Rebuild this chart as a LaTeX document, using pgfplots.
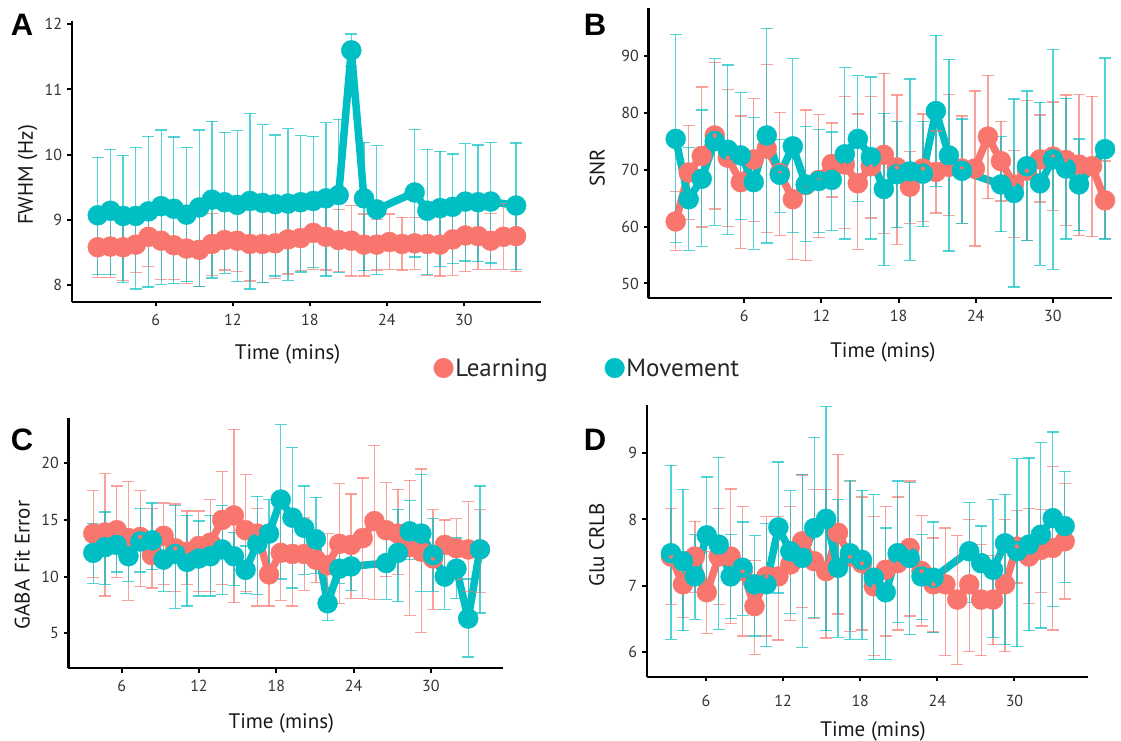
\documentclass[border=0pt]{standalone}
\usepackage{fontspec}
\setmainfont{PT Sans}
\newfontfamily\letterfont{Liberation Sans}
\usepackage{pgfplots}
\usepackage{pgfplotstable}
\pgfplotsset{compat=1.18}

\definecolor{lrn}{HTML}{F8766D}
\definecolor{mov}{HTML}{00BFC4}

% ---------------- Panel A (FWHM) ----------------
\pgfplotstableread{
k y lo hi
0 8.58 8.12 9.04
1 8.59 8.12 9.05
2 8.58 8.07 9.08
3 8.62 8.19 9.09
4 8.74 8.28 9.23
5 8.68 8.09 9.27
6 8.61 8.09 9.13
7 8.56 8.02 9.08
8 8.54 7.98 9.09
9 8.63 8.15 9.10
10 8.69 8.23 9.16
11 8.68 8.21 9.16
12 8.63 8.06 9.19
13 8.63 8.04 9.22
14 8.64 8.10 9.18
15 8.70 8.17 9.25
16 8.72 8.22 9.23
17 8.80 8.24 9.38
18 8.74 8.23 9.25
19 8.69 8.21 9.16
20 8.68 8.14 9.22
21 8.62 8.14 9.09
22 8.62 8.23 9.01
23 8.66 8.24 9.09
24 8.63 8.23 9.04
25 8.64 8.24 9.04
26 8.63 8.15 9.11
27 8.62 8.14 9.09
28 8.70 8.15 9.25
29 8.76 8.21 9.32
30 8.75 8.24 9.25
31 8.68 8.24 9.10
32 8.74 8.24 9.25
33 8.75 8.21 9.30
}\Alrn
\pgfplotstableread{
k y lo hi
0 9.07 8.16 9.96
1 9.14 8.16 10.08
2 9.06 8.04 9.99
3 9.06 7.94 10.11
4 9.13 7.97 10.28
5 9.21 8.01 10.38
6 9.17 8.02 10.27
7 9.08 8.05 10.11
8 9.19 7.98 10.38
9 9.31 8.11 10.51
10 9.27 8.18 10.34
11 9.23 8.05 10.37
12 9.29 7.94 10.63
13 9.26 8.04 10.46
14 9.24 8.14 10.30
15 9.25 8.07 10.40
16 9.27 8.20 10.29
17 9.29 8.27 10.28
18 9.33 8.14 10.49
19 9.38 8.19 10.54
20 11.60 11.35 11.85
21 9.33 8.22 10.19
22 9.16 8.16 10.14
25 9.42 8.43 10.39
26 9.14 8.16 10.08
27 9.18 8.28 10.05
28 9.20 8.33 10.01
29 9.28 8.37 10.17
30 9.27 8.36 10.15
31 9.28 8.34 10.19
33 9.22 8.24 10.18
}\Amov

% ---------------- Panel B (SNR) ----------------
\pgfplotstableread{
k y lo hi
0 60.9 55.8 66.1
1 69.5 61.3 77.8
2 72.4 59.9 84.5
3 76.0 63.1 88.8
4 72.1 60.0 84.1
5 67.8 56.1 79.4
6 71.8 60.9 82.5
7 73.7 58.9 88.5
8 69.4 58.4 80.1
9 64.8 54.2 74.4
10 67.3 54.0 80.5
11 68.2 58.1 79.7
12 71.0 65.2 78.2
13 70.9 59.7 82.8
14 67.6 56.0 79.8
15 70.6 61.5 82.8
16 72.6 58.8 86.9
17 70.4 56.9 83.1
18 67.0 60.6 73.2
19 70.2 60.9 79.8
20 69.6 62.4 76.8
21 70.5 61.9 83.2
22 70.2 60.6 79.4
23 70.2 56.6 83.8
24 75.8 64.9 86.6
25 71.5 64.5 78.5
26 67.4 58.1 73.4
27 69.8 57.5 82.1
28 71.8 64.3 79.6
29 72.3 62.8 81.9
30 71.7 60.2 83.1
31 70.9 58.4 83.2
32 70.6 58.2 82.9
33 64.6 57.9 71.5
}\Blrn
\pgfplotstableread{
k y lo hi
0 75.4 57.2 93.8
1 64.8 55.8 73.9
2 68.4 56.5 80.5
3 75.0 60.2 89.5
4 73.5 58.6 88.4
5 72.5 61.2 83.5
6 67.8 56.0 79.2
7 76.0 57.1 94.8
8 69.1 62.5 75.3
9 74.1 58.9 89.5
10 67.4 57.4 77.6
11 68.0 58.9 77.0
12 68.2 59.3 76.6
13 72.7 57.8 87.9
14 75.4 64.4 86.5
15 72.2 57.8 86.3
16 66.6 53.1 79.9
17 69.2 59.8 78.4
18 69.7 54.1 85.9
19 69.3 60.0 78.4
20 80.3 67.1 93.6
21 72.5 55.7 89.4
22 69.8 60.6 78.9
25 67.4 59.1 75.8
26 65.9 49.4 82.4
27 70.6 57.5 83.8
28 67.6 53.2 81.8
29 71.8 52.5 91.1
30 70.2 57.8 82.5
31 67.4 59.3 75.4
33 73.6 57.8 89.6
}\Bmov

% ---------------- Panel C (GABA Fit Error) ----------------
\pgfplotstableread{
k y lo hi
0 13.8 9.9 17.6
1 13.9 8.3 19.1
2 14.1 9.9 18.0
3 13.4 7.9 18.4
4 13.5 9.1 17.6
5 11.9 9.0 16.0
6 13.6 9.3 16.5
7 12.5 8.7 16.4
8 12.2 9.3 15.8
9 12.7 8.7 15.8
10 13.0 8.7 16.8
11 15.0 9.3 19.3
12 15.4 7.7 23.0
13 14.1 8.7 19.0
14 13.8 7.4 16.0
15 10.2 7.4 13.1
16 12.1 7.9 16.2
17 12.0 7.4 15.4
18 12.0 8.8 15.2
19 11.5 9.5 13.8
20 11.0 7.6 13.8
21 12.9 7.6 18.2
22 12.8 8.1 17.3
23 13.4 8.1 18.7
24 14.9 8.0 21.6
25 14.1 10.0 18.3
26 13.8 10.2 17.7
27 12.6 6.6 18.5
28 12.2 5.1 19.5
29 11.6 7.1 15.9
30 12.8 10.3 15.0
31 12.5 9.8 15.1
32 12.4 8.7 16.6
33 12.4 8.6 15.9
}\Clrn
\pgfplotstableread{
k y lo hi
0 12.1 9.4 14.7
1 12.6 9.3 15.7
2 12.8 10.4 14.8
3 11.8 9.6 13.7
4 13.1 10.4 16.0
5 13.2 10.6 16.5
6 11.5 8.7 14.1
7 12.0 7.2 16.3
8 11.3 7.4 15.4
9 11.6 8.3 14.9
10 11.8 8.3 15.4
11 12.4 8.4 16.3
12 11.8 9.2 13.9
13 10.6 8.5 12.7
14 12.9 8.4 17.1
15 13.8 10.6 16.8
16 16.8 9.8 23.4
17 15.2 9.0 21.4
18 14.3 10.2 18.0
19 13.3 10.3 17.0
20 7.65 6.1 8.6
21 10.7 9.4 12.2
22 10.9 8.8 12.8
25 11.2 8.0 14.4
26 12.1 7.8 15.9
27 14.0 11.5 16.7
28 13.8 8.7 19.0
29 11.9 8.7 15.1
30 10.0 7.1 12.9
31 10.7 8.1 13.4
32 6.3 2.9 9.8
33 12.4 6.8 18.0
}\Cmov

% ---------------- Panel D (Glu CRLB) ----------------
\pgfplotstableread{
k y lo hi
0 7.44 6.72 8.17
1 7.02 6.52 7.52
2 7.44 6.90 7.97
3 6.90 6.28 7.52
4 7.44 6.72 8.17
5 7.44 6.43 8.46
6 7.22 6.24 8.20
7 6.69 5.96 7.38
8 7.14 6.24 8.04
9 7.14 6.18 8.04
10 7.32 6.47 8.20
11 7.67 6.67 8.67
12 7.37 6.50 8.45
13 7.22 6.21 8.45
14 7.80 6.57 8.98
15 7.44 6.31 8.57
16 7.34 6.33 8.34
17 6.99 5.95 8.05
18 7.24 6.24 8.20
19 7.34 6.33 8.34
20 7.57 6.54 8.58
21 7.22 6.39 8.06
22 7.02 6.30 7.72
23 7.02 5.95 7.87
24 6.79 5.81 7.76
25 7.02 6.00 8.00
26 6.79 5.94 7.62
27 6.79 6.11 7.46
28 7.02 6.00 8.00
29 7.59 7.04 8.14
30 7.44 6.73 8.17
31 7.54 6.90 8.15
32 7.57 6.33 8.80
33 7.67 6.80 8.54
}\Dlrn
\pgfplotstableread{
k y lo hi
0 7.49 6.19 8.82
1 7.37 6.32 8.45
2 7.14 6.49 7.77
3 7.76 6.87 8.64
4 7.62 6.34 8.94
5 7.14 6.50 7.77
6 7.27 6.55 7.96
7 7.02 6.24 7.76
8 7.02 6.08 7.94
9 7.88 6.89 8.87
10 7.52 6.58 8.44
11 7.42 6.07 8.68
12 7.87 6.52 9.24
13 8.01 6.32 9.71
14 7.27 6.22 8.30
15 7.49 6.19 8.59
16 7.39 6.19 8.44
17 7.12 5.88 8.38
18 6.90 5.88 7.87
19 7.49 6.44 8.58
20 7.42 6.26 8.56
21 7.14 6.49 7.77
22 7.12 6.29 7.96
25 7.52 6.75 8.26
26 7.34 6.86 7.90
27 7.24 6.22 8.30
28 7.64 6.11 8.38
29 7.52 6.08 8.92
30 7.62 6.32 8.93
31 7.77 6.36 9.16
32 8.02 6.69 9.32
33 7.90 7.05 8.72
}\Dmov

\pgfplotsset{
  panel/.style={
    scale only axis, clip=false,
    axis x line*=bottom, axis y line*=left,
    axis line style={line width=2.4pt, black},
    tick align=outside, major tick length=4.5pt,
    every tick/.style={black, line width=2pt},
    xtick={6,12,18,24,30},
    tick label style={font=\fontsize{16}{19}\selectfont, text=black!80},
    label style={font=\fontsize{21}{25}\selectfont, text=black!90},
    /pgf/number format/assume math mode=true,
    xticklabel style={yshift=-4pt},
    yticklabel style={xshift=-1.5pt},
    xlabel={Time (mins)},
  },
  ln/.style={color=#1, line width=7.5pt, line join=round, line cap=round, no marks, forget plot},
  pt/.style={color=#1, only marks, mark=*, mark size=10pt, mark options={draw=none, fill=#1}, forget plot},
  eb/.style={color=#1, only marks, mark=none, forget plot,
    error bars/y dir=both, error bars/y explicit,
    error bars/error bar style={draw=#1, line width=1.3pt, opacity=0.68},
    error bars/error mark options={rotate=90, draw=#1, line width=1.3pt, mark size=6pt, opacity=0.68}},
}

\begin{document}
\begin{tikzpicture}[x=1pt,y=1pt]
\path[use as bounding box] (0,0) rectangle (1121,741);

% ===== A =====
\begin{axis}[panel, at={(71.7pt,439pt)}, anchor=south west,
  width=469.3pt, height=281pt,
  xmin=-0.54, xmax=36.0, ymin=7.74, ymax=12.05, ytick={8,9,10,11,12},
  x filter/.expression={1.49+0.987*x},
  ylabel={FWHM (Hz)},
  x label style={at={(axis description cs:0.46,0)}, anchor=center, yshift=-52pt},
  y label style={at={(axis description cs:-0.094,0.452)}, anchor=center},
  legend style={at={(axis description cs:0.771,-0.235)}, anchor=west, draw=none, fill=none,
    legend columns=2, inner sep=0pt, font=\fontsize{25}{30}\selectfont, text=black!85,
    /tikz/every even column/.append style={column sep=55pt}},
]
\addplot[ln=lrn] table[x=k,y=y]{\Alrn};
\addplot[ln=mov] table[x=k,y=y]{\Amov};
\addplot[pt=lrn] table[x=k,y=y]{\Alrn};
\addplot[pt=mov] table[x=k,y=y]{\Amov};
\addplot[eb=lrn] table[x=k,y=y,y error plus expr=\thisrow{hi}-\thisrow{y},y error minus expr=\thisrow{y}-\thisrow{lo}]{\Alrn};
\addplot[eb=mov] table[x=k,y=y,y error plus expr=\thisrow{hi}-\thisrow{y},y error minus expr=\thisrow{y}-\thisrow{lo}]{\Amov};
\addlegendimage{only marks, mark=*, mark size=9.8pt, color=lrn, mark options={draw=none, fill=lrn}}
\addlegendentry{Learning}
\addlegendimage{only marks, mark=*, mark size=9.8pt, color=mov, mark options={draw=none, fill=mov}}
\addlegendentry{Movement}
\end{axis}

% ===== B =====
\begin{axis}[panel, at={(648.3pt,442.7pt)}, anchor=south west,
  width=463.7pt, height=290.3pt,
  xmin=-1.47, xmax=34.6, ymin=47.4, ymax=98.4, ytick={50,60,70,80,90},
  x filter/.expression={0.66+1.012*x},
  ylabel={SNR},
  x label style={at={(axis description cs:0.506,0)}, anchor=center, yshift=-54pt},
  y label style={at={(axis description cs:-0.11,0.449)}, anchor=center},
]
\addplot[ln=lrn] table[x=k,y=y]{\Blrn};
\addplot[ln=mov] table[x=k,y=y]{\Bmov};
\addplot[pt=lrn] table[x=k,y=y]{\Blrn};
\addplot[pt=mov] table[x=k,y=y]{\Bmov};
\addplot[eb=lrn] table[x=k,y=y,y error plus expr=\thisrow{hi}-\thisrow{y},y error minus expr=\thisrow{y}-\thisrow{lo}]{\Blrn};
\addplot[eb=mov] table[x=k,y=y,y error plus expr=\thisrow{hi}-\thisrow{y},y error minus expr=\thisrow{y}-\thisrow{lo}]{\Bmov};
\end{axis}

% ===== C =====
\begin{axis}[panel, at={(68.3pt,72.7pt)}, anchor=south west,
  width=434.7pt, height=250.3pt,
  xmin=1.86, xmax=35.59, ymin=1.91, ymax=24.0, ytick={5,10,15,20},
  x filter/.expression={3.80+0.909*x},
  ylabel={GABA Fit Error},
  x label style={at={(axis description cs:0.49,0)}, anchor=center, yshift=-55pt},
  y label style={at={(axis description cs:-0.106,0.413)}, anchor=center},
]
\addplot[ln=lrn] table[x=k,y=y]{\Clrn};
\addplot[ln=mov] table[x=k,y=y]{\Cmov};
\addplot[pt=lrn] table[x=k,y=y]{\Clrn};
\addplot[pt=mov] table[x=k,y=y]{\Cmov};
\addplot[eb=lrn] table[x=k,y=y,y error plus expr=\thisrow{hi}-\thisrow{y},y error minus expr=\thisrow{y}-\thisrow{lo}]{\Clrn};
\addplot[eb=mov] table[x=k,y=y,y error plus expr=\thisrow{hi}-\thisrow{y},y error minus expr=\thisrow{y}-\thisrow{lo}]{\Cmov};
\end{axis}

% ===== D =====
\begin{axis}[panel, at={(646.7pt,64pt)}, anchor=south west,
  width=441.3pt, height=272pt,
  xmin=1.39, xmax=35.72, ymin=5.62, ymax=9.73, ytick={6,7,8,9},
  x filter/.expression={3.28+0.928*x},
  xticklabel style={yshift=-6pt},
  ylabel={Glu CRLB},
  x label style={at={(axis description cs:0.513,0)}, anchor=center, yshift=-54pt},
  y label style={at={(axis description cs:-0.113,0.485)}, anchor=center},
]
\addplot[ln=lrn] table[x=k,y=y]{\Dlrn};
\addplot[ln=mov] table[x=k,y=y]{\Dmov};
\addplot[pt=lrn] table[x=k,y=y]{\Dlrn};
\addplot[pt=mov] table[x=k,y=y]{\Dmov};
\addplot[eb=lrn] table[x=k,y=y,y error plus expr=\thisrow{hi}-\thisrow{y},y error minus expr=\thisrow{y}-\thisrow{lo}]{\Dlrn};
\addplot[eb=mov] table[x=k,y=y,y error plus expr=\thisrow{hi}-\thisrow{y},y error minus expr=\thisrow{y}-\thisrow{lo}]{\Dmov};
\end{axis}

% panel letters
\node[font=\letterfont\bfseries\fontsize{31}{31}\selectfont] at (22,716) {A};
\node[font=\letterfont\bfseries\fontsize{31}{31}\selectfont] at (595,716) {B};
\node[font=\letterfont\bfseries\fontsize{31}{31}\selectfont] at (22,301) {C};
\node[font=\letterfont\bfseries\fontsize{31}{31}\selectfont] at (595,301) {D};
\end{tikzpicture}
\end{document}
